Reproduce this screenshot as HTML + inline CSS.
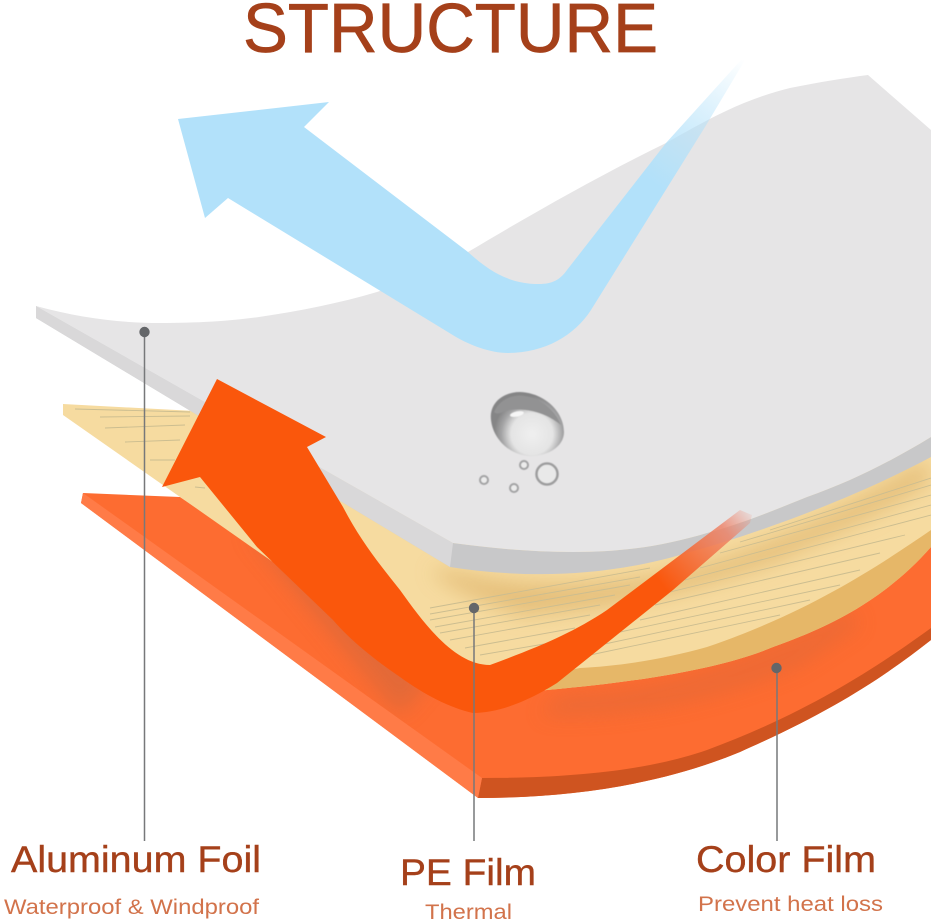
<!DOCTYPE html>
<html><head><meta charset="utf-8"><style>
html,body{margin:0;padding:0;background:#fff;width:931px;height:924px;overflow:hidden}
svg{display:block}
text{font-family:"Liberation Sans",Arial,sans-serif}
</style></head><body>
<svg width="931" height="924" viewBox="0 0 931 924" xmlns="http://www.w3.org/2000/svg">
<defs>
<linearGradient id="bf" gradientUnits="userSpaceOnUse" x1="745" y1="60" x2="655" y2="185">
<stop offset="0" stop-color="#b2e1fa" stop-opacity="0"/><stop offset="0.4" stop-color="#b2e1fa" stop-opacity=".45"/><stop offset="1" stop-color="#b2e1fa"/></linearGradient>
<linearGradient id="rf" gradientUnits="userSpaceOnUse" x1="752" y1="507" x2="660" y2="582">
<stop offset="0" stop-color="#f0806a" stop-opacity="0"/><stop offset="0.3" stop-color="#ee8064" stop-opacity=".8"/><stop offset="1" stop-color="#fa570c"/></linearGradient>
<radialGradient id="drop" gradientUnits="userSpaceOnUse" cx="532" cy="434" r="38">
<stop offset="0" stop-color="#efefef"/><stop offset="0.55" stop-color="#e4e4e4"/><stop offset="0.8" stop-color="#a5a5a6"/><stop offset="1" stop-color="#858586"/></radialGradient>
<filter id="b8" x="-30%" y="-30%" width="160%" height="160%"><feGaussianBlur stdDeviation="10"/></filter>
<filter id="b1" x="-30%" y="-30%" width="160%" height="160%"><feGaussianBlur stdDeviation="1"/></filter>
<filter id="b05" x="-30%" y="-30%" width="160%" height="160%"><feGaussianBlur stdDeviation=".6"/></filter>
<clipPath id="creamClip"><path d="M63,404 L195,411 L500,420 L931,420 L931,530 C880,565 810,612 707,647 C660,660 620,666 580,668 L480,664 L63,415 Z"/></clipPath>
<clipPath id="orClip"><path d="M83,493 L180,497 L470,690 L931,530 L931,628 C880,665 810,712 707,750 C650,770 573,778 482,778 Z"/></clipPath>
</defs>

<!-- color film -->
<path d="M83,493 L180,497 L470,690 L931,530 L931,640 C880,680 830,712 740,752 C660,785 570,798 478,798 L81,503 Z" fill="#fd6c31"/>
<path d="M482,778 C573,778 650,770 707,750 C810,712 880,665 931,628 L931,640 C880,680 830,712 740,752 C660,785 570,798 478,798 Z" fill="#cf5420"/>
<path d="M81,503 L83,493 L482,778 L478,798 Z" fill="#ff7b47"/>
<g clip-path="url(#orClip)">
<path d="M245,530 L300,560 L430,680 L400,715 Z" fill="#c9683f" opacity=".5" filter="url(#b8)"/>
<path d="M560,695 C640,695 720,670 800,635 L850,610 L860,625 L800,665 C720,700 620,720 540,715 Z" fill="#d9673a" opacity=".45" filter="url(#b8)"/>
</g>

<!-- PE film -->
<path d="M63,404 L195,411 L600,450 L931,430 L931,547 C880,605 820,630 773,647 C730,665 660,680 547,690 L470,700 L63,415 Z" fill="#f6dba0"/>
<path d="M547,690 C660,680 730,665 773,647 C820,630 880,605 931,547 L931,530 C880,565 810,612 707,647 C660,660 620,666 580,668 L520,680 Z" fill="#e6b768"/>
<path d="M450,570 C520,590 620,590 720,560 C790,535 860,500 925,460 L931,480 C890,510 830,535 780,560 C700,590 620,610 520,615 C480,600 450,590 430,570 Z" fill="#e1b871" opacity=".8" filter="url(#b8)"/>
<g clip-path="url(#creamClip)" fill="none" stroke="#cbbd90" stroke-width=".9">
<path d="M75,409 L190,412"/><path d="M100,417 L190,416"/><path d="M105,428 L185,425"/><path d="M125,442 L180,440"/><path d="M150,460 L175,460"/><path d="M195,487 L205,488"/>
<path d="M430,608 L650,568"/><path d="M430,614 L640,577"/><path d="M430,620 L630,585"/><path d="M435,627 L615,595"/><path d="M440,633 L600,605"/><path d="M450,640 L590,615"/><path d="M465,648 L575,628"/><path d="M480,655 L550,643"/>
<path d="M590,655 L780,615"/><path d="M600,645 L810,600"/><path d="M620,632 L840,585"/><path d="M640,620 L860,570"/><path d="M655,605 L880,553"/><path d="M670,592 L905,535"/><path d="M685,580 L931,515"/><path d="M700,568 L931,505"/><path d="M720,553 L931,495"/><path d="M740,542 L931,485"/><path d="M770,530 L931,478"/>
</g>

<!-- aluminum foil -->
<path d="M36,318 L36,306 L453,543 C490,548 530,552 573,552 C620,552 660,547 707,533 C740,524 770,512 807,497 C850,482 890,462 931,437 L931,457 C860,495 770,530 680,555 C600,578 520,578 450,567 Z" fill="#c8c8c9"/>
<path d="M36,318 L36,306 L453,543 L450,567 Z" fill="#d9d8d9"/>
<path d="M36,306 C80,318 120,323 160,323 C200,323 230,321 259,317 C300,311 340,303 377,292 C410,281 440,267 468,252 C530,215 600,175 666,143 C700,124 740,100 790,88 C820,82 845,78 868,75 L931,130 L931,437 C890,462 850,482 807,497 C770,512 740,524 707,533 C660,547 620,552 573,552 C530,552 490,548 453,543 Z" fill="#e6e5e6"/>

<!-- droplets -->
<g filter="url(#b05)">
<path d="M491,420 C489,403 503,392 520,392 C545,393 564,412 564,432 C564,448 545,457 528,456 C508,454 493,438 491,420 Z" fill="url(#drop)"/>
<path d="M494,412 C500,398 515,394 525,396 C540,398 555,410 561,425 C545,412 525,408 510,410 C503,411 498,416 494,412 Z" fill="#929293"/>
<ellipse cx="517" cy="414" rx="7" ry="2.5" fill="#f7f7f7" transform="rotate(-12 517 414)"/>
<circle cx="547" cy="474" r="10.5" fill="#e9e9e9" stroke="#9d9d9e" stroke-width="2.5"/>
<circle cx="524" cy="465" r="4" fill="#ececec" stroke="#a2a2a3" stroke-width="2"/>
<circle cx="484" cy="480" r="4" fill="#ececec" stroke="#a2a2a3" stroke-width="2"/>
<circle cx="514" cy="488" r="4" fill="#ececec" stroke="#a2a2a3" stroke-width="2"/>
</g>

<!-- blue arrow -->
<path d="M178,119 L329,102 L304,127 L468,252 C490,272 510,284 539,284 C552,284 560,280 567,270 L666,143 L741,60 L745,60 L705,127 L591,310 C575,335 545,353 508,353 C490,353 470,345 456,337 L228,198 L205,218 Z" fill="url(#bf)"/>

<!-- red arrow -->
<path d="M217,379 L326,437 L307,447 L343,507 C360,540 380,565 400,590 C425,625 455,665 490,665 C530,650 570,635 607,610 L740,510 L752,515 L750,523 L673,590 L557,683 C530,700 500,713 473,713 C450,708 425,695 400,677 C375,660 350,640 333,620 L257,547 L200,477 L162,487 Z" fill="url(#rf)"/>

<!-- leaders -->
<g stroke="#77787a" stroke-width="1.5" fill="none">
<path d="M144.5,332 V841"/><path d="M474,608 V841"/><path d="M777,668 V841"/>
</g>
<g fill="#646669"><circle cx="144.5" cy="332" r="5.2"/><circle cx="474" cy="608" r="5.2"/><circle cx="776.5" cy="668" r="5.2"/></g>

<!-- text -->
<text x="243" y="52" font-size="70" fill="#a5401a" stroke="#a5401a" stroke-width=".7" textLength="415" lengthAdjust="spacingAndGlyphs">STRUCTURE</text>
<g fill="#a5401a" stroke="#a5401a" stroke-width=".4" font-size="37.5">
<text x="11" y="872" textLength="250" lengthAdjust="spacingAndGlyphs">Aluminum Foil</text>
<text x="400" y="885" textLength="136" lengthAdjust="spacingAndGlyphs">PE Film</text>
<text x="696" y="872" textLength="180" lengthAdjust="spacingAndGlyphs">Color Film</text>
</g>
<g fill="#d2734b" font-size="21">
<text x="4" y="914" textLength="255" lengthAdjust="spacingAndGlyphs">Waterproof &amp; Windproof</text>
<text x="425" y="919" textLength="87" lengthAdjust="spacingAndGlyphs">Thermal</text>
<text x="698" y="911" textLength="185" lengthAdjust="spacingAndGlyphs">Prevent heat loss</text>
</g>
</svg>
</body></html>
